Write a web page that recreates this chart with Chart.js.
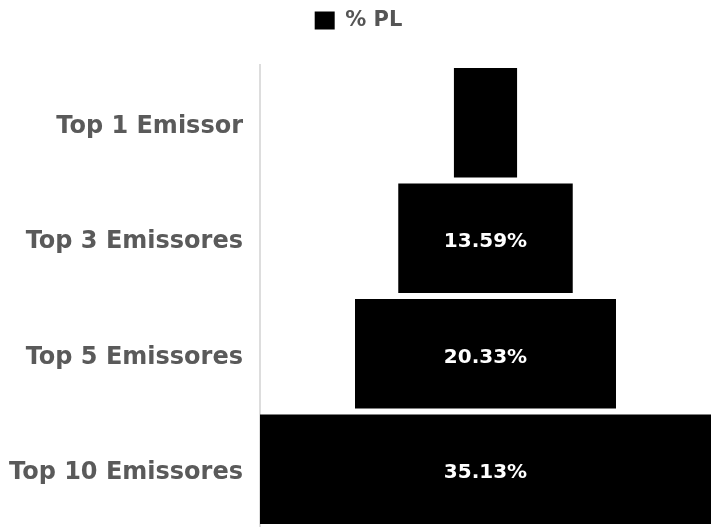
<!DOCTYPE html>
<html>
<head>
<meta charset="utf-8">
<script src="https://cdn.jsdelivr.net/npm/chart.js@4"></script>
<style>
  html, body { margin: 0; padding: 0; background: #fff; overflow: hidden; }
  canvas { display: block; }
</style>
</head>
<body>
<canvas id="funnelChart" width="717" height="527"></canvas>
<script>
// funnel data
const categories = ["Top 1 Emissor", "Top 3 Emissores", "Top 5 Emissores", "Top 10 Emissores"];
const pctPL = [4.92, 13.59, 20.33, 35.13];
const seriesName = "% PL";

const maxVal = Math.max(...pctPL);
const labelFont = "'DejaVu Sans'";

// draw value text in the middle of each bar (skip when it does not fit)
const barLabels = {
    id: "barLabels",
    afterDatasetsDraw(chart) {
        const ctx = chart.ctx;
        const meta = chart.getDatasetMeta(0);
        ctx.save();
        ctx.font = "bold 20px " + labelFont;
        ctx.fillStyle = "#ffffff";
        ctx.textAlign = "center";
        ctx.textBaseline = "middle";
        meta.data.forEach((bar, i) => {
            const txt = pctPL[i].toFixed(2) + "%";
            const w = Math.abs(bar.x - bar.base);
            if (ctx.measureText(txt).width + 20 > w) return;
            ctx.fillText(txt, (bar.x + bar.base) / 2, bar.y + 4);
        });
        ctx.restore();
    },
};

// extra space below the legend
const legendGap = {
    id: "legendGap",
    beforeInit(chart) {
        const fit = chart.legend.fit;
        chart.legend.fit = function () {
            fit.bind(chart.legend)();
            this.height += 24;
        };
    },
};

new Chart(document.getElementById("funnelChart"), {
    type: "bar",
    data: {
        labels: categories,
        datasets: [
            {
                label: seriesName,
                data: pctPL.map((v) => [-v / 2, v / 2]),
                backgroundColor: "#000000",
                borderWidth: 0,
                barPercentage: 0.95,
                categoryPercentage: 1,
            },
        ],
    },
    options: {
        indexAxis: "y",
        responsive: false,
        animation: false,
        layout: { autoPadding: false, padding: { left: 6, right: 6, top: 0, bottom: 0 } },
        plugins: {
            legend: {
                labels: {
                    boxWidth: 20,
                    boxHeight: 18,
                    color: "#555555",
                    font: { family: labelFont, size: 21, weight: "bold" },
                    padding: 10,
                },
                onClick: null,
            },
            tooltip: { enabled: false },
        },
        scales: {
            x: {
                display: false,
                min: -maxVal / 2,
                max: maxVal / 2,
            },
            y: {
                grid: { display: false, drawTicks: false },
                border: { display: true, color: "#dddddd", width: 2 },
                ticks: {
                    color: "#5a5a5a",
                    padding: 17,
                    labelOffset: 4,
                    font: { family: labelFont, size: 24, weight: "bold" },
                },
                afterFit(scale) {
                    scale.width = 254;
                    scale.paddingTop = 0;
                    scale.paddingBottom = 0;
                },
            },
        },
    },
    plugins: [barLabels, legendGap],
});
</script>
</body>
</html>
